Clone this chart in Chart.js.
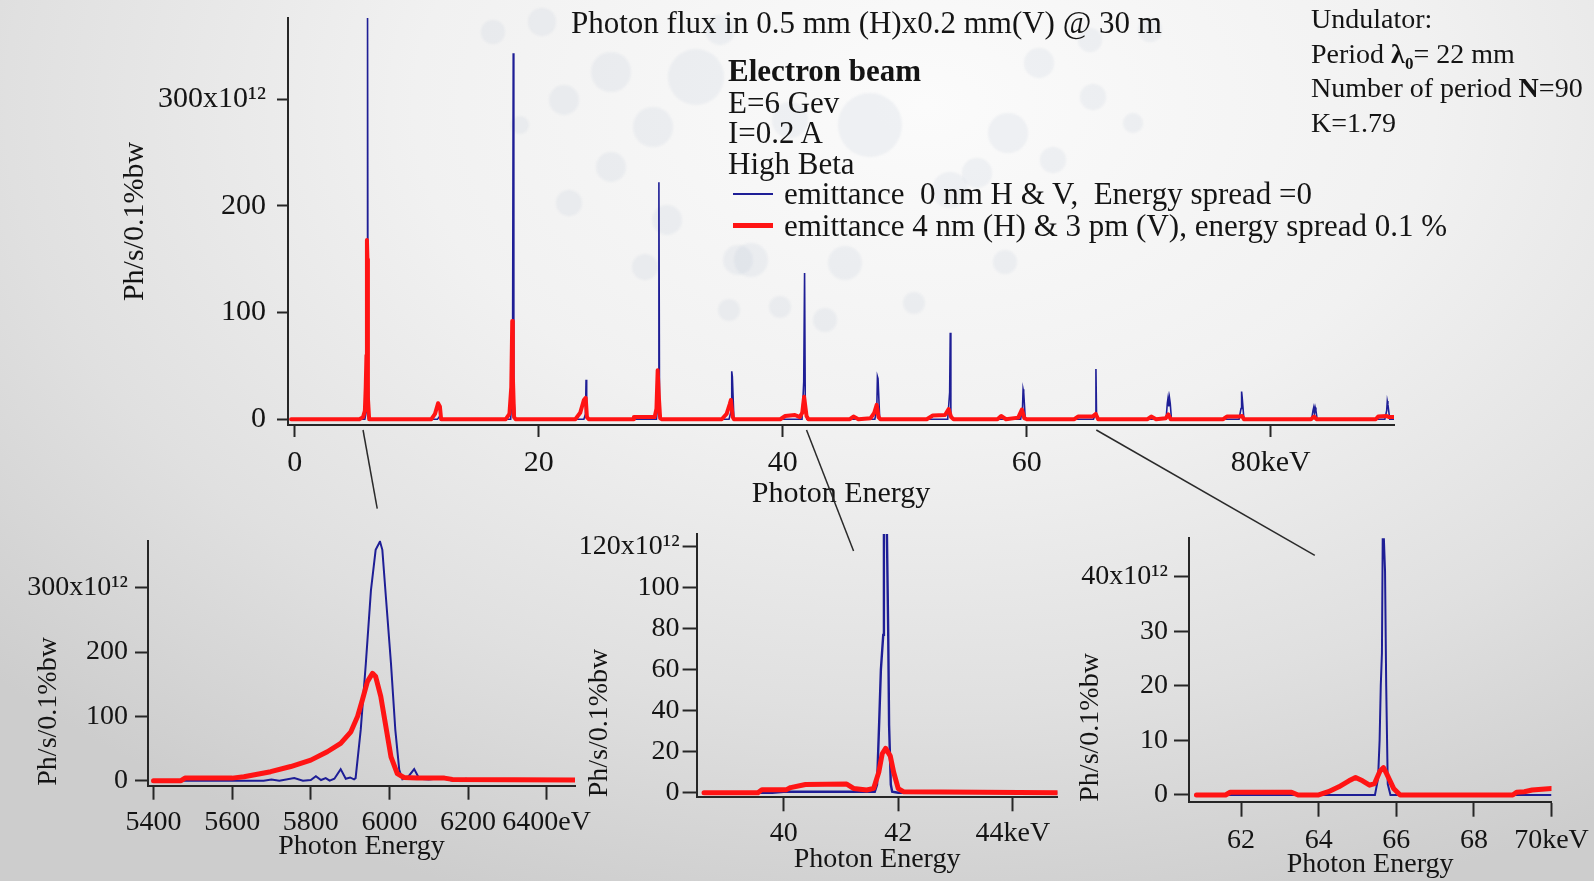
<!DOCTYPE html>
<html>
<head>
<meta charset="utf-8">
<script src="https://cdn.jsdelivr.net/npm/chart.js@4.4.1/dist/chart.umd.min.js"></script>
<style>
html,body{margin:0;padding:0;width:1594px;height:881px;overflow:hidden;}
body{position:relative;font-family:'Liberation Serif','Times New Roman',serif;color:#141414;
 background:radial-gradient(ellipse 80% 95% at 58% 12%, #fbfbfb 0%, #f1f1f1 40%, #e0e0e0 72%, #cdcdcd 100%);}
canvas{position:absolute;}
.deco{position:absolute;border-radius:50%;background:rgba(178,190,210,0.16);filter:blur(1px);}
.t{position:absolute;white-space:pre;line-height:1;z-index:5;}
.mark{position:absolute;z-index:5;}
</style>
</head>
<body>
<div id="decor"></div>
<canvas id="cMain" width="1594" height="512" style="left:0;top:0"></canvas>
<canvas id="cZ1" width="600" height="381" style="left:0;top:500px"></canvas>
<canvas id="cZ2" width="520" height="381" style="left:560px;top:500px"></canvas>
<canvas id="cZ3" width="524" height="381" style="left:1070px;top:500px"></canvas>
<canvas id="cOver" width="1594" height="881" style="left:0;top:0;z-index:4;pointer-events:none"></canvas>

<div class="t" style="left:571px;top:7px;font-size:31px">Photon flux in 0.5 mm (H)x0.2 mm(V) @ 30 m</div>
<div class="t" style="left:728px;top:55px;font-size:31px;font-weight:bold">Electron beam</div>
<div class="t" style="left:728px;top:87px;font-size:31px">E=6 Gev</div>
<div class="t" style="left:728px;top:117px;font-size:31px">I=0.2 A</div>
<div class="t" style="left:728px;top:148px;font-size:31px">High Beta</div>
<div class="mark" style="left:733px;top:193px;width:40px;height:2px;background:#1e1e96"></div>
<div class="t" id="leg1" style="left:784px;top:178px;font-size:31px"></div>
<div class="mark" style="left:733px;top:223px;width:40px;height:5px;background:#ff1414"></div>
<div class="t" id="leg2" style="left:784px;top:210px;font-size:31px"></div>

<div class="t" style="left:1311px;top:5px;font-size:28px">Undulator:</div>
<div class="t" style="left:1311px;top:40px;font-size:28px">Period <b>λ</b><span style="font-size:17px;font-weight:bold;position:relative;top:6px">0</span>= 22 mm</div>
<div class="t" style="left:1311px;top:74px;font-size:28px">Number of period <b>N</b>=90</div>
<div class="t" style="left:1311px;top:109px;font-size:28px">K=1.79</div>

<script>
// ================= DATA =================
const seriesNames = ['emittance  0 nm H & V,  Energy spread =0',
                     'emittance 4 nm (H) & 3 pm (V), energy spread 0.1 %'];

// Main spectrum (keV, 10^12 Ph/s/0.1%bw)
const mainBlueEnergy = [-0.3,
  5.75, 5.88, 5.93, 5.97, 6.01, 6.12,
  11.7, 11.9, 12.1,
  17.7, 17.85, 17.91, 17.96, 18.08,
  23.7, 23.83, 23.88, 23.93, 24.05,
  29.65, 29.8, 29.85, 29.9, 30.02,
  35.6, 35.77, 35.82, 35.87, 36.0,
  41.58, 41.72, 41.79, 41.85, 41.98,
  47.55, 47.71, 47.76, 47.81, 47.95,
  53.52, 53.68, 53.73, 53.78, 53.92,
  59.5, 59.65, 59.70, 59.75, 59.88,
  65.47, 65.62, 65.67, 65.72, 65.85,
  71.42, 71.52, 71.58, 71.64, 71.70, 71.76, 71.86,
  77.4, 77.56, 77.61, 77.66, 77.8,
  83.35, 83.46, 83.52, 83.58, 83.64, 83.70, 83.8,
  89.35, 89.5, 89.55, 89.6, 89.75,
  90.1];
const mainBlueFlux = [0,
  0, 8, 60, 376, 40, 0,
  0, 3, 0,
  0, 30, 343, 20, 0,
  0, 5, 37, 5, 0,
  0, 20, 222, 10, 0,
  0, 8, 45, 40, 0,
  0, 35, 137, 10, 0,
  0, 10, 40, 38, 0,
  0, 25, 81, 5, 0,
  0, 10, 28, 25, 0,
  0, 5, 47, 3, 0,
  0, 15, 20, 12, 20, 15, 0,
  0, 10, 26, 20, 0,
  0, 8, 11, 6, 11, 8, 0,
  0, 8, 17, 14, 0,
  0];

const mainRedEnergy = [-0.3, 5.3, 5.6, 5.75, 5.82, 5.88, 5.92, 5.96, 6.0, 6.1,
  11.2, 11.5, 11.75, 11.9, 12.0,
  17.3, 17.6, 17.75, 17.83, 17.88, 17.98, 18.1,
  23.0, 23.4, 23.7, 23.85, 23.95, 24.1,
  27.75, 27.8, 29.5, 29.65, 29.75, 29.85, 29.95, 30.1,
  35.0, 35.4, 35.65, 35.75, 35.9, 36.0,
  39.8, 40.2, 41.0, 41.4, 41.6, 41.75, 41.95, 42.1,
  45.5, 45.8, 46.2, 47.2, 47.5, 47.7, 47.85, 48.0,
  51.8, 52.3, 53.3, 53.6, 53.8, 54.0,
  57.6, 57.9, 58.3, 59.3, 59.6, 59.8, 60.0,
  63.9, 64.2, 65.4, 65.65, 65.85,
  69.9, 70.2, 70.6, 71.4, 71.6, 71.8,
  76.1, 76.4, 77.5, 77.65, 77.8,
  83.3, 83.55, 83.75,
  88.6, 88.8, 89.5, 89.7, 90.1];
const mainRedFlux = [0, 0, 2, 8, 30, 60, 168, 150, 20, 0,
  0, 5, 15, 12, 0,
  0, 5, 30, 92, 40, 2, 0,
  0, 6, 18, 20, 2, 0,
  0, 2, 2, 10, 46, 20, 1, 0,
  0, 5, 14, 18, 2, 0,
  0, 3, 4, 2, 6, 21, 3, 0,
  0, 2.5, 0, 1, 6, 13.5, 2, 0,
  0, 3.5, 4, 9.5, 2, 0,
  0, 3, 0, 1.5, 9, 1, 0,
  0, 2.5, 2.5, 5, 0,
  0, 2.5, 0, 1, 4.5, 0,
  0, 2.5, 2.5, 3, 0,
  0, 2.5, 0,
  0, 2.5, 3, 2, 2];

const mainXTicks = [0, 20, 40, 60, 80];
const mainXTickLabels = ['0', '20', '40', '60', '80keV'];
const mainYTicks = [0, 100, 200, 300];
const mainYTickLabels = ['0', '100', '200', '300x10¹²'];

// Zoom 1: first harmonic (eV)
const z1BlueEnergy = [5400, 5680, 5700, 5720, 5758, 5780, 5800, 5813, 5826, 5838, 5848, 5860, 5876, 5889, 5900, 5910, 5914,
  5927, 5940, 5953, 5965, 5976, 5982, 5991, 6004, 6015, 6025, 6033, 6045, 6063, 6076, 6100, 6135, 6160, 6195, 6215, 6472];
const z1BlueFlux   = [0, 0, 2, 0, 4, 0, 1, 7, 1, 4, 0, 3, 18, 3, 5, 2, 4,
  79, 182, 296, 359, 372, 359, 286, 182, 79, 17, 2, 4, 18, 3, 2, 4, 0, 3, 0, 0];
const z1RedEnergy = [5400, 5470, 5480, 5600, 5630, 5647, 5698, 5749, 5800, 5842, 5876, 5902, 5919, 5931, 5944, 5957,
  5965, 5978, 5991, 6004, 6020, 6037, 6071, 6140, 6160, 6472];
const z1RedFlux   = [0, 0, 4, 4, 6, 8, 14, 22, 32, 45, 58, 76, 100, 125, 154, 167,
  162, 131, 84, 37, 11, 5, 4, 4, 2, 1];
const z1XTicks = [5400, 5600, 5800, 6000, 6200, 6400];
const z1XTickLabels = ['5400', '5600', '5800', '6000', '6200', '6400eV'];
const z1YTicks = [0, 100, 200, 300];
const z1YTickLabels = ['0', '100', '200', '300x10¹²'];

// Zoom 2: 7th harmonic (keV)
const z2BlueEnergy = [38.61, 39.8, 40.0, 41.4, 41.59, 41.63, 41.668, 41.697, 41.738, 41.75, 41.796, 41.825, 41.84, 41.87, 41.894, 42.0, 44.78];
const z2BlueFlux   = [0, 0, 0.5, 0.5, 0.5, 4, 35, 60, 77, 140, 140, 77, 33, 4, 0.5, 0, 0];
const z2RedEnergy = [38.61, 39.55, 39.62, 40.05, 40.12, 40.38, 41.1, 41.22, 41.45, 41.57, 41.66, 41.72, 41.78, 41.86, 41.92, 42.0, 42.09, 44.78];
const z2RedFlux   = [0, 0, 1.5, 1.5, 2.5, 4, 4.2, 2.1, 1.3, 2.1, 10, 19, 21.6, 18, 10, 2, 0.5, 0];
const z2XTicks = [40, 42, 44];
const z2XTickLabels = ['40', '42', '44keV'];
const z2YTicks = [0, 20, 40, 60, 80, 100, 120];
const z2YTickLabels = ['0', '20', '40', '60', '80', '100', '120x10¹²'];

// Zoom 3: 11th harmonic (keV)
const z3BlueEnergy = [60.85, 65.45, 65.53, 65.57, 65.60, 65.63, 65.65, 65.68, 65.71, 65.74, 65.78, 65.85, 70.0];
const z3BlueFlux   = [0, 0, 3, 10, 20, 26, 47, 47, 41, 20, 2, 0, 0];
const z3RedEnergy = [60.85, 61.6, 61.72, 63.3, 63.47, 64.0, 64.25, 64.52, 64.78, 64.95, 65.13, 65.31, 65.44, 65.58, 65.67, 65.75, 65.93, 66.1, 69.0, 69.1, 69.3, 69.5, 70.0];
const z3RedFlux   = [0, 0, 0.5, 0.5, 0, 0, 0.6, 1.5, 2.6, 3.2, 2.6, 1.8, 2.1, 4.4, 5, 3.9, 1.2, 0, 0, 0.5, 0.6, 0.9, 1.2];
const z3XTicks = [62, 64, 66, 68, 70];
const z3XTickLabels = ['62', '64', '66', '68', '70keV'];
const z3YTicks = [0, 10, 20, 30, 40];
const z3YTickLabels = ['0', '10', '20', '30', '40x10¹²'];

// where the zoom connectors start (main keV) and end (inset x value)
const connectorMainEnergy = [5.6, 41.95, 65.7];
const connectorInsetValue = [5969, 41.22, 63.9];

// ================= DRAWING =================
document.getElementById('leg1').textContent = seriesNames[0];
document.getElementById('leg2').textContent = seriesNames[1];

const FAM = "'Liberation Serif','Times New Roman',serif";
const BLUE = '#1e1e96', RED = '#ff1414', AX = '#262626';

// decorative background dots (logo watermark)
const decoDots = [[493,32,12],[542,22,14],[611,72,20],[564,100,15],[696,77,28],[653,127,20],[611,167,15],[569,203,13],
  [667,220,15],[645,267,13],[738,260,15],[729,310,11],[520,125,9],[1039,63,15],[1093,97,13],[1133,123,10],[1008,133,20],
  [1053,160,13],[977,173,15],[751,260,17],[845,263,17],[780,307,11],[914,303,11],[870,125,32],[950,190,18],[1005,262,12],
  [825,320,12],[1150,30,12],[1090,40,12],[720,30,15],[790,120,18]];
const decor = document.getElementById('decor');
decoDots.forEach(([x,y,r]) => {
  const d = document.createElement('div');
  d.className = 'deco';
  d.style.left = (x - r) + 'px'; d.style.top = (y - r) + 'px';
  d.style.width = (2*r) + 'px'; d.style.height = (2*r) + 'px';
  decor.appendChild(d);
});

function pts(xs, ys) { return xs.map((x, i) => ({x: x, y: ys[i]})); }

function makeChart(id, s, g) {
  const xTicks = s.xTicks, yTicks = s.yTicks;
  return new Chart(document.getElementById(id), {
    type: 'line',
    data: { datasets: [
      { label: seriesNames[0], data: pts(s.bx, s.by), borderColor: BLUE, borderWidth: g.bw, order: 2 },
      { label: seriesNames[1], data: pts(s.rx, s.ry), borderColor: RED, borderWidth: g.rw, order: 1,
        borderJoinStyle: 'round', borderCapStyle: 'round' }
    ]},
    options: {
      responsive: false, animation: false, devicePixelRatio: 1,
      events: [],
      elements: { point: { radius: 0 }, line: { tension: 0, fill: false } },
      layout: { padding: g.pad },
      plugins: { legend: { display: false }, tooltip: { enabled: false } },
      scales: {
        x: {
          type: 'linear', min: g.xr[0], max: g.xr[1],
          afterBuildTicks: sc => { sc.ticks = xTicks.map(v => ({ value: v })); },
          afterFit: sc => { sc.height = g.xh; sc.paddingLeft = 0; sc.paddingRight = 0; sc.paddingTop = 0; sc.paddingBottom = 0; },
          ticks: { autoSkip: false, maxRotation: 0, color: '#141414', padding: g.xpad,
                   font: { family: FAM, size: g.fs },
                   callback: v => s.xLabels[xTicks.indexOf(v)] },
          grid: { drawOnChartArea: false, drawTicks: true, tickLength: g.xtl, tickColor: AX, tickWidth: 2 },
          border: { display: true, color: AX, width: 2 },
          title: { display: true, text: 'Photon Energy', color: '#141414', padding: 0,
                   font: { family: FAM, size: g.fs } }
        },
        y: {
          type: 'linear', min: g.yr[0], max: g.yr[1],
          afterBuildTicks: sc => { sc.ticks = yTicks.map(v => ({ value: v })); },
          afterFit: sc => { sc.width = g.yw; sc.paddingTop = 0; sc.paddingBottom = 0; sc.paddingLeft = 0; sc.paddingRight = 0; },
          ticks: { color: '#141414', padding: g.ypad, font: { family: FAM, size: g.fs },
                   callback: v => s.yLabels[yTicks.indexOf(v)] },
          grid: { drawOnChartArea: false, drawTicks: true, tickLength: g.ytl, tickColor: AX, tickWidth: 2 },
          border: { display: true, color: AX, width: 2 },
          title: { display: true, text: 'Ph/s/0.1%bw', color: '#141414', padding: { top: g.ytp, bottom: 0 }, align: g.yta,
                   font: { family: FAM, size: g.fs } }
        }
      }
    }
  });
}

const mainChart = makeChart('cMain',
  { bx: mainBlueEnergy, by: mainBlueFlux, rx: mainRedEnergy, ry: mainRedFlux,
    xTicks: mainXTicks, xLabels: mainXTickLabels, yTicks: mainYTicks, yLabels: mainYTickLabels },
  { pad: { left: 100, top: 18, right: 200, bottom: 0 }, yw: 188, ytp: 17, xh: 87,
    xr: [-0.55, 90.1], yr: [-5.4, 376], fs: 30, xtl: 12, ytl: 11, xpad: 8, ypad: 11, bw: 1.6, rw: 4, yta: 'center' });

const z1Chart = makeChart('cZ1',
  { bx: z1BlueEnergy, by: z1BlueFlux, rx: z1RedEnergy, ry: z1RedFlux,
    xTicks: z1XTicks, xLabels: z1XTickLabels, yTicks: z1YTicks, yLabels: z1YTickLabels },
  { pad: { left: 4, top: 40.7, right: 25, bottom: 18 }, yw: 144, ytp: 28, xh: 77.3,
    xr: [5386, 6472], yr: [-7.8, 373.2], fs: 28, xtl: 14, ytl: 13, xpad: 6, ypad: 7, bw: 2, rw: 5, yta: 'start' });

const z2Chart = makeChart('cZ2',
  { bx: z2BlueEnergy, by: z2BlueFlux, rx: z2RedEnergy, ry: z2RedFlux,
    xTicks: z2XTicks, xLabels: z2XTickLabels, yTicks: z2YTicks, yLabels: z2YTickLabels },
  { pad: { left: 2, top: 34, right: 22.5, bottom: 4.2 }, yw: 134.6, ytp: 21.2, xh: 79.5,
    xr: [38.48, 44.78], yr: [-2.24, 126.2], fs: 28, xtl: 14, ytl: 14, xpad: 6, ypad: 3, bw: 2.4, rw: 5, yta: 'start' });

const z3Chart = makeChart('cZ3',
  { bx: z3BlueEnergy, by: z3BlueFlux, rx: z3RedEnergy, ry: z3RedFlux,
    xTicks: z3XTicks, xLabels: z3XTickLabels, yTicks: z3YTicks, yLabels: z3YTickLabels },
  { pad: { left: 0, top: 38.3, right: 42.5, bottom: 0 }, yw: 118.7, ytp: 4.2, xh: 79.3,
    xr: [60.65, 70.0], yr: [-1.23, 47.0], fs: 28, xtl: 15, ytl: 14.7, xpad: 7.5, ypad: 6, bw: 2, rw: 5, yta: 'start' });

// zoom connectors
(function () {
  const ctx = document.getElementById('cOver').getContext('2d');
  const insets = [[z1Chart, 0, 500, -32], [z2Chart, 560, 500, 17], [z3Chart, 1070, 500, 17]];
  ctx.strokeStyle = '#2a2a2a';
  ctx.lineWidth = 1.5;
  insets.forEach(([ch, ox, oy, dy], i) => {
    const x0 = mainChart.scales.x.getPixelForValue(connectorMainEnergy[i]);
    const y0 = mainChart.chartArea.bottom + 5;
    const x1 = ox + ch.scales.x.getPixelForValue(connectorInsetValue[i]);
    const y1 = oy + ch.chartArea.top + dy;
    ctx.beginPath(); ctx.moveTo(x0, y0); ctx.lineTo(x1, y1); ctx.stroke();
  });
})();
</script>
</body>
</html>
